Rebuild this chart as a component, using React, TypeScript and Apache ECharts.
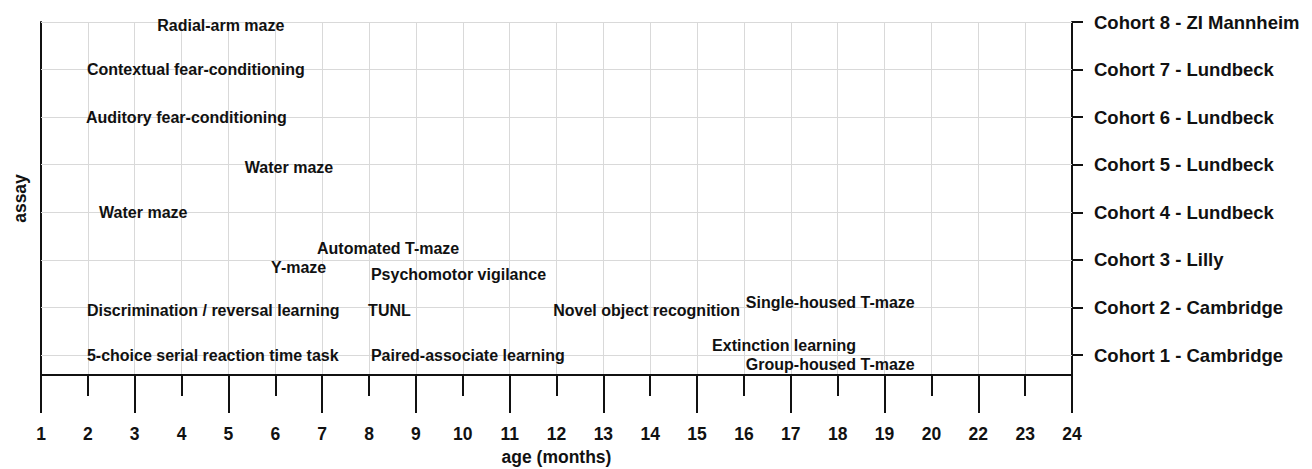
import React, { useEffect, useRef } from "react";
import * as echarts from "echarts";

// x-axis tick labels (note: 21 is absent in the original figure)
const tickLabels = ["1", "2", "3", "4", "5", "6", "7", "8", "9", "10", "11", "12", "13", "14", "15", "16", "17", "18", "19", "20", "22", "23", "24"];

// cohorts on the right axis (value 1..8)
const cohortNames = [
  "Cohort 1 - Cambridge",
  "Cohort 2 - Cambridge",
  "Cohort 3 - Lilly",
  "Cohort 4 - Lundbeck",
  "Cohort 5 - Lundbeck",
  "Cohort 6 - Lundbeck",
  "Cohort 7 - Lundbeck",
  "Cohort 8 - ZI Mannheim",
];
const cohortValues = [1, 2, 3, 4, 5, 6, 7, 8];

// assays: name, position on the age axis (tick index), cohort level
const assayNames = [
  "Radial-arm maze",
  "Contextual fear-conditioning",
  "Auditory fear-conditioning",
  "Water maze",
  "Water maze",
  "Automated T-maze",
  "Y-maze",
  "Psychomotor vigilance",
  "Discrimination / reversal learning",
  "TUNL",
  "Novel object recognition",
  "Single-housed T-maze",
  "5-choice serial reaction time task",
  "Paired-associate learning",
  "Extinction learning",
  "Group-housed T-maze",
];
const assayAge = [2.48, 0.98, 0.96, 4.35, 1.24, 5.89, 4.91, 7.04, 0.98, 6.98, 10.93, 15.04, 0.98, 7.04, 14.32, 15.04];
const assayLevel = [7.92, 7.01, 6.0, 4.95, 3.99, 3.23, 2.83, 2.7, 1.93, 1.93, 1.93, 2.11, 0.98, 0.98, 1.19, 0.81];

const FONT = "'Liberation Sans', Arial, Helvetica, sans-serif";
const INK = "#111";

export default function App() {
  const ref = useRef<HTMLDivElement>(null);

  useEffect(() => {
    if (!ref.current) return;
    const chart = echarts.init(ref.current, undefined, { renderer: "svg" });
    const points = assayNames.map((n, i) => ({ value: [assayAge[i], assayLevel[i]], name: n }));
    const yMin = 0.58;
    const yMax = 8;
    chart.setOption({
      animation: false,
      backgroundColor: "#fff",
      textStyle: { fontFamily: FONT },
      grid: { left: 41, right: 240, top: 22, bottom: 94, containLabel: false, outerBoundsMode: "none" },
      xAxis: [
        {
          type: "value",
          min: 0,
          max: tickLabels.length - 1,
          interval: 1,
          position: "bottom",
          name: "age (months)",
          nameLocation: "middle",
          nameGap: 72,
          nameTextStyle: { fontSize: 17.5, fontWeight: "bold", color: INK, fontFamily: FONT },
          axisLine: { show: true, onZero: false, lineStyle: { color: INK, width: 2 } },
          axisTick: { show: true, length: 21, lineStyle: { color: INK, width: 2 } },
          axisLabel: {
            show: true,
            margin: 50,
            fontSize: 17.5,
            fontWeight: "bold",
            color: INK,
            fontFamily: FONT,
            formatter: (v: number) => tickLabels[Math.round(v)] ?? "",
          },
          splitLine: { show: true, lineStyle: { color: "#d9d9d9", width: 1 } },
        },
        {
          type: "value",
          min: 0,
          max: tickLabels.length - 1,
          interval: 2,
          position: "bottom",
          axisLine: { show: false, onZero: false },
          axisTick: { show: true, length: 38, lineStyle: { color: INK, width: 2 } },
          axisLabel: { show: false },
          splitLine: { show: false },
        },
      ],
      yAxis: [
        {
          type: "value",
          min: yMin,
          max: yMax,
          position: "left",
          name: "assay",
          nameLocation: "middle",
          nameRotate: 90,
          nameGap: 12,
          nameTextStyle: { fontSize: 17.5, fontWeight: "bold", color: INK, fontFamily: FONT },
          axisLine: { show: true, onZero: false, lineStyle: { color: INK, width: 2 } },
          axisTick: { show: false },
          axisLabel: { show: false },
          splitLine: { show: false },
        },
        {
          type: "value",
          min: yMin,
          max: yMax,
          position: "right",
          axisLine: { show: true, onZero: false, lineStyle: { color: INK, width: 2 } },
          axisTick: { show: true, length: 11, customValues: cohortValues, lineStyle: { color: INK, width: 2 } },
          axisLabel: {
            show: true,
            customValues: cohortValues,
            margin: 22,
            fontSize: 18.5,
            fontWeight: "bold",
            color: INK,
            fontFamily: FONT,
            formatter: (v: number) => cohortNames[Math.round(v) - 1] ?? "",
          },
          splitLine: { show: false },
        },
      ],
      series: [
        {
          type: "scatter",
          xAxisIndex: 0,
          yAxisIndex: 0,
          symbolSize: 0,
          itemStyle: { opacity: 1 },
          data: points,
          label: {
            show: true,
            position: "right",
            distance: 0,
            formatter: (p: any) => p.name,
            fontSize: 16,
            fontWeight: "bold",
            color: INK,
            opacity: 1,
            fontFamily: FONT,
          },
          markLine: {
            silent: true,
            symbol: "none",
            label: { show: false },
            lineStyle: { color: "#d9d9d9", width: 1, type: "solid", opacity: 1 },
            data: cohortValues.map((v) => ({ yAxis: v })),
          },
          z: 5,
        },
      ],
    });
    return () => chart.dispose();
  }, []);

  return (
    <div
      ref={ref}
      style={{ position: "fixed", left: 0, top: 0, width: 1312, height: 469, background: "#fff" }}
    />
  );
}
